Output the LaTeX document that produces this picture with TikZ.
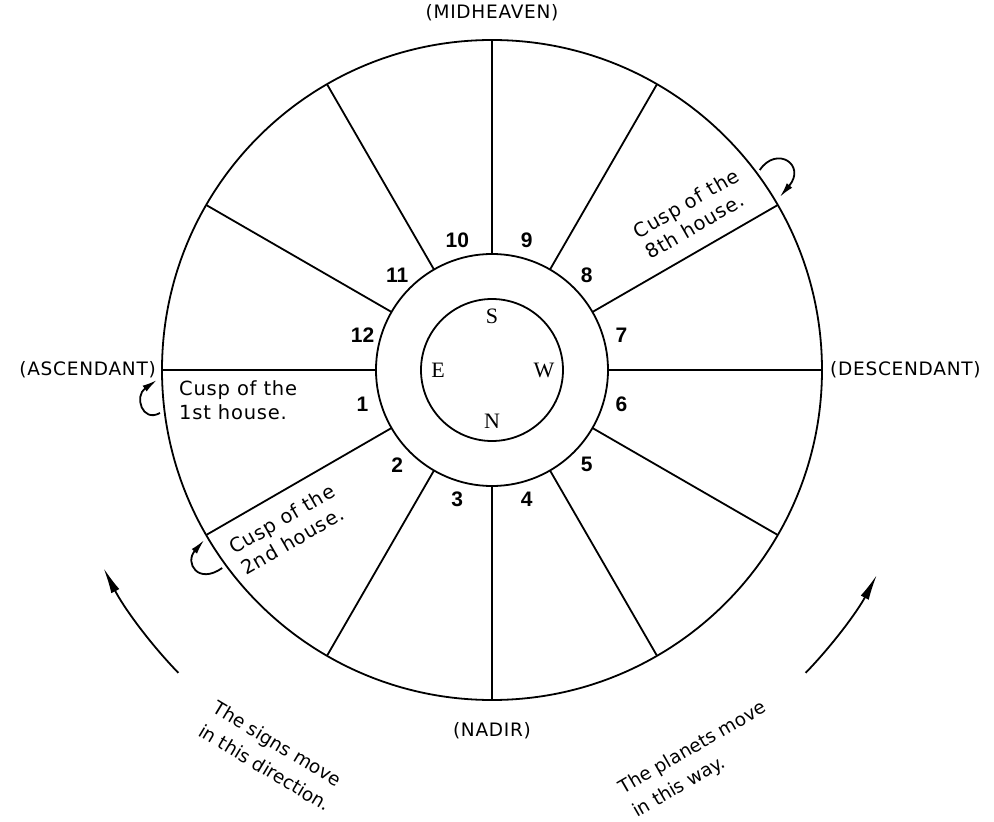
\documentclass[tikz,border=0pt]{standalone}
\usepackage{fontspec}
\setmainfont{DejaVu Sans}
\newfontfamily\cuspfont[LetterSpace=4]{DejaVu Sans}
\newfontfamily\anglefont[LetterSpace=4]{DejaVu Sans}
\newfontfamily\numfont{Liberation Sans}
\newfontfamily\pointfont{Liberation Serif}
\usetikzlibrary{arrows.meta,positioning}
\tikzstyle{wheel} = [draw, line width=1.8pt]
\tikzstyle{housenum} = [font=\numfont\bfseries\fontsize{21}{21}\selectfont, inner sep=0pt]
\tikzstyle{compass} = [font=\pointfont\fontsize{22}{22}\selectfont, inner sep=0pt]
\tikzstyle{chartlabel} = [font=\anglefont\fontsize{18.5}{18.5}\selectfont, inner sep=0pt]
\tikzstyle{cusptext} = [font=\cuspfont\fontsize{19.5}{24}\selectfont, align=left, inner sep=0pt]
\tikzstyle{movetext} = [font=\fontsize{18.5}{27}\selectfont, align=left, inner sep=0pt]
\tikzstyle{hook} = [line width=1.8pt, -{Latex[length=15pt,width=7pt]}]
\tikzstyle{bigarrow} = [line width=1.8pt, -{Latex[length=26pt,width=9pt]}]

\begin{document}
\begin{tikzpicture}[x=1pt, y=1pt]
    \useasboundingbox (-492,-452) rectangle (502,370);
    % Wheel
    \draw [wheel] (0,0) circle (330);
    \draw [wheel] (0,0) circle (116);
    \draw [wheel] (0,0) circle (71);

    % Cusps and houses
    \foreach \n in {1,...,12} {
        \coordinate (in\n) at ({150+30*\n}:116);
        \coordinate (cusp\n) at ({150+30*\n}:330);
        \draw [wheel] (in\n) -- (cusp\n);
        \node [housenum] (h\n) at ({165+30*\n}:134) {\n};
    }

    % Compass
    \node [compass] (south) at (90:54) {S};
    \node [compass] (east) at (180:54) {E};
    \node [compass] (west) at (0:52) {W};
    \node [compass] (north) at (270:51) {N};

    % Angles
    \node [chartlabel, above=19pt of cusp10] (mc) {(MIDHEAVEN)};
    \node [chartlabel, left=6pt of cusp1] (asc) {(ASCENDANT)};
    \node [chartlabel, right=8pt of cusp7] (dsc) {(DESCENDANT)};
    \node [chartlabel, below=22pt of cusp4] (ic) {(NADIR)};

    % Cusp notes
    \node [cusptext, anchor=west] (note1) at ([shift={(17,-30)}]cusp1) {Cusp of the\\1st house.};
    \node [cusptext, rotate=30] (note8) at (38:254) {Cusp of the\\8th house.};
    \node [cusptext, rotate=30] (note2) at (218:259) {Cusp of the\\2nd house.};
    \draw [hook] ([shift={(-18,35)}]cusp8) .. controls ([shift={(-1,60)}]cusp8) and ([shift={(29,40)}]cusp8) .. ([shift={(2,8)}]cusp8);
    \draw [hook] ([shift={(-2,-43)}]cusp1) .. controls ([shift={(-20,-53)}]cusp1) and ([shift={(-28,-26)}]cusp1) .. ([shift={(-5,-10)}]cusp1);
    \draw [hook] ([shift={(16,-33)}]cusp2) .. controls ([shift={(-8,-50)}]cusp2) and ([shift={(-22,-28)}]cusp2) .. ([shift={(-2,-5)}]cusp2);

    % Motion
    \coordinate (signs) at (224:436);
    \coordinate (planets) at (-44:436);
    \draw [bigarrow] (signs) arc [start angle=224, end angle=207, radius=436];
    \draw [bigarrow] (planets) arc [start angle=-44, end angle=-28, radius=436];
    \node [movetext, rotate=-31] (signsnote) at (-220,-386) {The signs move\\in this direction.};
    \node [movetext, rotate=30] (planetsnote) at (208,-390) {The planets move\\in this way.};
\end{tikzpicture}
\end{document}
